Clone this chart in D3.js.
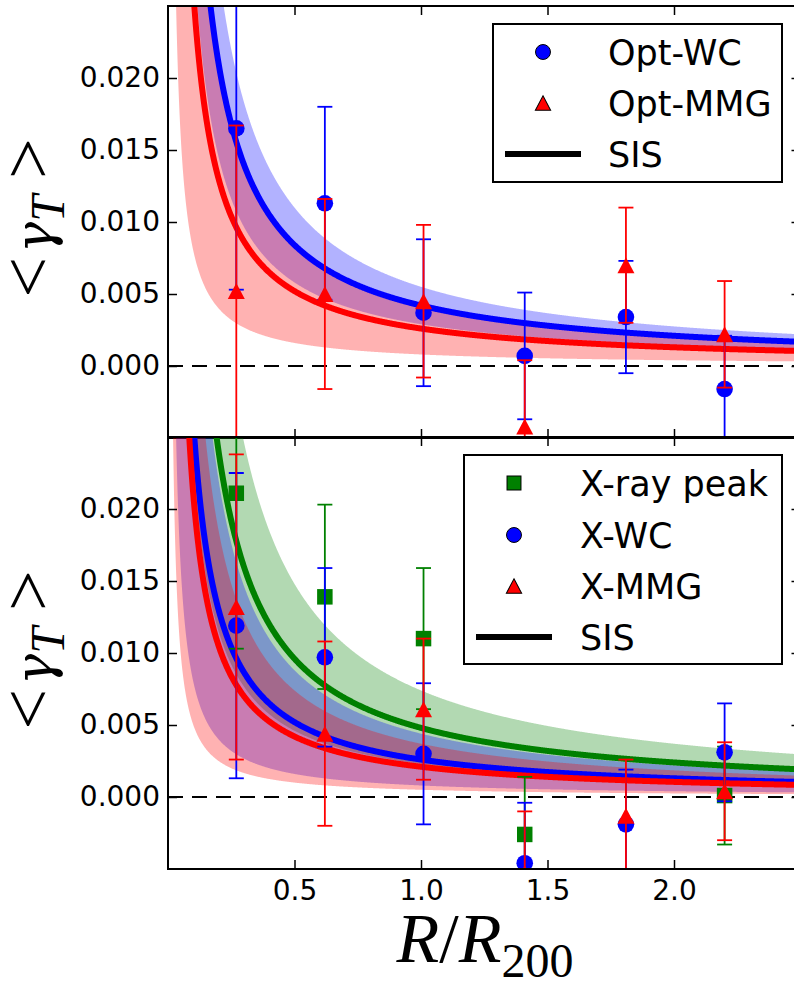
<!DOCTYPE html>
<html>
<head>
<meta charset="utf-8">
<script src="https://cdn.jsdelivr.net/npm/d3@7"></script>
<style>
  body { margin: 0; background: #fff; }
  svg { display: block; }
</style>
</head>
<body>
<svg id="chart" width="794" height="983"></svg>
<script>
// Radial bin centres, in units of R200
const radii = [0.27, 0.62, 1.01, 1.41, 1.81, 2.20];

// Optical centres (upper panel): mean tangential shear and 1-sigma errors
const optWC     = [0.0165, 0.0113, 0.0037, 0.0007, 0.0034, -0.0016];
const optWCErr  = [0.0112, 0.0067, 0.0051, 0.0044, 0.0039, 0.0037];
const optMMG    = [0.0052, 0.0050, 0.0045, -0.0042, 0.0070, 0.0022];
const optMMGErr = [0.0115, 0.0066, 0.0053, 0.0046, 0.0040, 0.0037];

// X-ray centres (lower panel)
const xrayPeak    = [0.0211, 0.0139, 0.0110, -0.0026, -0.0115, 0.0001];
const xrayPeakErr = [0.0108, 0.0064, 0.0049, 0.0040, 0.0040, 0.0034];
const xWC         = [0.0119, 0.0097, 0.0030, -0.0046, -0.0019, 0.0031];
const xWCErr      = [0.0106, 0.0062, 0.0049, 0.0042, 0.0038, 0.0034];
const xMMG        = [0.0132, 0.0044, 0.0061, -0.0053, -0.0013, 0.0004];
const xMMGErr     = [0.0106, 0.0064, 0.0049, 0.0043, 0.0039, 0.0034];

// SIS fits, gamma_T = A / R : [A low, A best, A high]
const sisOptWC    = [0.0029, 0.0042, 0.0055];
const sisOptMMG   = [0.0008, 0.0026, 0.0041];
const sisXrayPeak = [0.0023, 0.0048, 0.0074];
const sisXWC      = [0.0008, 0.0026, 0.0044];
const sisXMMG     = [0.0005, 0.0021, 0.0037];

const xTicks = [0.5, 1.0, 1.5, 2.0];
const yTicks = [0.000, 0.005, 0.010, 0.015, 0.020];

const BLUE = "#0000ff", RED = "#ff0000", GREEN = "#008000";
const TICK_FONT = "'DejaVu Sans', 'Bitstream Vera Sans', sans-serif";
const MATH_FONT = "'Liberation Serif', 'DejaVu Serif', serif";

const svg = d3.select("#chart");
const x = d3.scaleLinear().domain([0, 2.5]).range([168, 800.5]);

// grid of radii on which the SIS model curves are evaluated
const modelR = d3.range(0.01, 2.6, 0.002);

function markerPath(shape) {
  if (shape === "triangle") return "M0,-8 L8.5,8 L-8.5,8 Z";
  return "M-7.75,-7.75 H7.75 V7.75 H-7.75 Z";
}

function drawMarker(g, shape, color, stroke, cx, cy, scale) {
  const s = scale || 1;
  if (shape === "circle") {
    g.append("circle").attr("cx", cx).attr("cy", cy).attr("r", 8.3 * s)
      .attr("fill", color).attr("stroke", stroke || "none").attr("stroke-width", 1);
  } else {
    g.append("path").attr("d", markerPath(shape))
      .attr("transform", `translate(${cx},${cy}) scale(${s})`)
      .attr("fill", color).attr("stroke", stroke || "none").attr("stroke-width", 1 / s);
  }
}

function drawPanel(cfg) {
  const { y, top, bottom, fits, series, clipId, showXLabels, legend } = cfg;
  const left = x.range()[0], right = x.range()[1];

  svg.append("clipPath").attr("id", clipId)
    .append("rect").attr("x", left).attr("y", top)
    .attr("width", right - left).attr("height", bottom - top);

  const plot = svg.append("g").attr("clip-path", `url(#${clipId})`);

  // 1-sigma bands of the SIS fits
  fits.forEach(f => {
    plot.append("path")
      .datum(modelR)
      .attr("d", d3.area()
        .x(r => x(r))
        .y0(r => y(f.amp[0] / r))
        .y1(r => y(f.amp[2] / r)))
      .attr("fill", f.color).attr("fill-opacity", 0.3).attr("stroke", "none");
  });

  // best-fit SIS curves
  fits.forEach(f => {
    plot.append("path")
      .datum(modelR)
      .attr("d", d3.line().x(r => x(r)).y(r => y(f.amp[1] / r)))
      .attr("fill", "none").attr("stroke", f.color).attr("stroke-width", 6);
  });

  // zero line
  plot.append("line")
    .attr("x1", left).attr("x2", right)
    .attr("y1", y(0)).attr("y2", y(0))
    .attr("stroke", "#000").attr("stroke-width", 2)
    .attr("stroke-dasharray", "15,9");

  // measurements with error bars
  series.forEach(s => {
    const g = plot.append("g");
    radii.forEach((r, i) => {
      const v = s.values[i], e = s.errors[i];
      const cx = x(r);
      g.append("line").attr("x1", cx).attr("x2", cx)
        .attr("y1", y(v - e)).attr("y2", y(v + e))
        .attr("stroke", s.color).attr("stroke-width", 1.8);
      [v - e, v + e].forEach(c => {
        g.append("line").attr("x1", cx - 7.5).attr("x2", cx + 7.5)
          .attr("y1", y(c)).attr("y2", y(c))
          .attr("stroke", s.color).attr("stroke-width", 1.8);
      });
      drawMarker(g, s.shape, s.color, null, cx, y(v));
    });
  });

  // axes: ticks on all four sides, pointing inwards
  const ax = svg.append("g");

  const yl = ax.append("g").attr("transform", `translate(${left},0)`)
    .call(d3.axisLeft(y).tickValues(yTicks).tickFormat(d3.format(".3f"))
      .tickSize(-9).tickSizeOuter(0).tickPadding(8));
  const yr = ax.append("g").attr("transform", `translate(${right},0)`)
    .call(d3.axisRight(y).tickValues(yTicks).tickFormat("")
      .tickSize(-9).tickSizeOuter(0));
  const xb = ax.append("g").attr("transform", `translate(0,${bottom})`)
    .call(d3.axisBottom(x).tickValues(xTicks)
      .tickFormat(showXLabels ? d3.format(".1f") : "")
      .tickSize(-9).tickSizeOuter(0).tickPadding(11));
  const xt = ax.append("g").attr("transform", `translate(0,${top})`)
    .call(d3.axisTop(x).tickValues(xTicks).tickFormat("")
      .tickSize(-9).tickSizeOuter(0));

  [yl, yr, xb, xt].forEach(a => {
    a.attr("font-family", TICK_FONT).attr("font-size", 28);
    a.select(".domain").remove();
    a.selectAll(".tick line").attr("stroke", "#000").attr("stroke-width", 1.5);
    a.selectAll(".tick text").attr("fill", "#000");
  });

  // frame
  svg.append("rect")
    .attr("x", left).attr("y", top)
    .attr("width", right - left).attr("height", bottom - top)
    .attr("fill", "none").attr("stroke", "#000").attr("stroke-width", 2);

  // y-axis label  < gamma_T >
  const cy = (top + bottom) / 2 + cfg.labelShift;
  const lab = svg.append("text")
    .attr("transform", `translate(52,${cy}) rotate(-90)`)
    .attr("text-anchor", "middle")
    .attr("font-family", MATH_FONT).attr("font-size", 72).attr("fill", "#000");
  lab.append("tspan").text("<");
  lab.append("tspan").attr("dx", 4).attr("font-style", "italic")
    .attr("font-family", "'DejaVu Serif', serif").attr("font-size", 52).text("γ");
  lab.append("tspan").attr("font-style", "italic").attr("font-size", 48)
    .attr("dy", 12).text("T");
  lab.append("tspan").attr("dy", -12).attr("dx", 16).text(">");

  // legend
  const lg = svg.append("g");
  lg.append("rect")
    .attr("x", legend.x).attr("y", legend.y)
    .attr("width", legend.w).attr("height", legend.h)
    .attr("fill", "#fff").attr("stroke", "#000").attr("stroke-width", 2);
  const entries = series.map(s => ({ label: s.label, shape: s.shape, color: s.color }))
    .concat([{ label: "SIS", shape: "line" }]);
  entries.forEach((en, i) => {
    const ry = legend.rows[i];
    if (en.shape === "line") {
      lg.append("line")
        .attr("x1", legend.mx - 38).attr("x2", legend.mx + 38)
        .attr("y1", ry).attr("y2", ry)
        .attr("stroke", "#000").attr("stroke-width", 6);
    } else {
      drawMarker(lg, en.shape, en.color, "#000", legend.mx, ry, 0.9);
    }
    lg.append("text")
      .attr("x", legend.tx).attr("y", ry + 12.5)
      .attr("font-family", TICK_FONT).attr("font-size", 35).attr("fill", "#000")
      .text(en.label);
  });
}

// upper panel: optical centres
drawPanel({
  y: d3.scaleLinear().domain([-0.005, 0.025]).range([438, 6]),
  top: 6, bottom: 438, clipId: "clip-top", showXLabels: false, labelShift: -4,
  fits: [
    { amp: sisOptWC, color: BLUE },
    { amp: sisOptMMG, color: RED }
  ],
  series: [
    { label: "Opt-WC", values: optWC, errors: optWCErr, color: BLUE, shape: "circle" },
    { label: "Opt-MMG", values: optMMG, errors: optMMGErr, color: RED, shape: "triangle" }
  ],
  legend: { x: 493, y: 24, w: 289, h: 158, mx: 543, tx: 608, rows: [52, 103, 154] }
});

// lower panel: X-ray centres
drawPanel({
  y: d3.scaleLinear().domain([-0.005, 0.025]).range([869, 437]),
  top: 437, bottom: 869, clipId: "clip-bottom", showXLabels: true, labelShift: -3,
  fits: [
    { amp: sisXrayPeak, color: GREEN },
    { amp: sisXWC, color: BLUE },
    { amp: sisXMMG, color: RED }
  ],
  series: [
    { label: "X-ray peak", values: xrayPeak, errors: xrayPeakErr, color: GREEN, shape: "square" },
    { label: "X-WC", values: xWC, errors: xWCErr, color: BLUE, shape: "circle" },
    { label: "X-MMG", values: xMMG, errors: xMMGErr, color: RED, shape: "triangle" }
  ],
  legend: { x: 464, y: 455, w: 318, h: 209, mx: 514, tx: 580, rows: [483, 535, 586, 637] }
});

// x-axis label  R / R_200
const xl = svg.append("text")
  .attr("x", 485).attr("y", 962)
  .attr("text-anchor", "middle")
  .attr("font-family", MATH_FONT).attr("font-size", 70).attr("fill", "#000");
xl.append("tspan").attr("font-style", "italic").text("R");
xl.append("tspan").text("/");
xl.append("tspan").attr("font-style", "italic").text("R");
xl.append("tspan").attr("font-size", 48).attr("dy", 15).text("200");
</script>
</body>
</html>
